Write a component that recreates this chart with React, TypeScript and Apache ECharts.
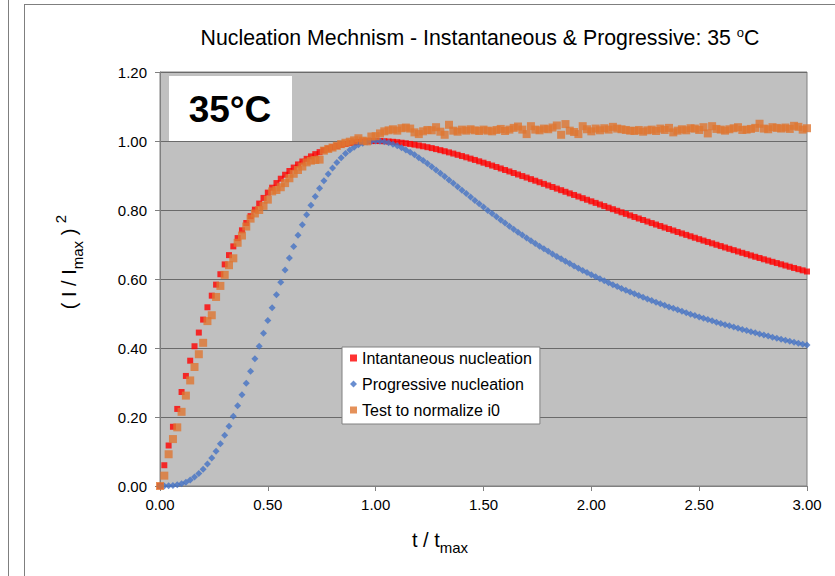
import React, { useEffect, useRef } from "react";
import * as echarts from "echarts";

const tValues = [
  0, 0.02, 0.04, 0.06, 0.08, 0.1, 0.12, 0.14, 0.16, 0.18, 0.2,
  0.22, 0.24, 0.26, 0.28, 0.3, 0.32, 0.34, 0.36, 0.38, 0.4,
  0.42, 0.44, 0.46, 0.48, 0.5, 0.52, 0.54, 0.56, 0.58, 0.6,
  0.62, 0.64, 0.66, 0.68, 0.7, 0.72, 0.74, 0.76, 0.78, 0.8,
  0.82, 0.84, 0.86, 0.88, 0.9, 0.92, 0.94, 0.96, 0.98, 1.0,
  1.02, 1.04, 1.06, 1.08, 1.1, 1.12, 1.14, 1.16, 1.18, 1.2,
  1.22, 1.24, 1.26, 1.28, 1.3, 1.32, 1.34, 1.36, 1.38, 1.4,
  1.42, 1.44, 1.46, 1.48, 1.5, 1.52, 1.54, 1.56, 1.58, 1.6,
  1.62, 1.64, 1.66, 1.68, 1.7, 1.72, 1.74, 1.76, 1.78, 1.8,
  1.82, 1.84, 1.86, 1.88, 1.9, 1.92, 1.94, 1.96, 1.98, 2.0,
  2.02, 2.04, 2.06, 2.08, 2.1, 2.12, 2.14, 2.16, 2.18, 2.2,
  2.22, 2.24, 2.26, 2.28, 2.3, 2.32, 2.34, 2.36, 2.38, 2.4,
  2.42, 2.44, 2.46, 2.48, 2.5, 2.52, 2.54, 2.56, 2.58, 2.6,
  2.62, 2.64, 2.66, 2.68, 2.7, 2.72, 2.74, 2.76, 2.78, 2.8,
  2.82, 2.84, 2.86, 2.88, 2.9, 2.92, 2.94, 2.96, 2.98, 3.0,
];

const instantaneous = [
  0, 0.0602, 0.1174, 0.1717, 0.2234, 0.2724, 0.319, 0.3632, 0.4051, 0.4447, 0.4823,
  0.518, 0.5517, 0.5836, 0.6138, 0.6423, 0.6692, 0.6946, 0.7186, 0.7411, 0.7623,
  0.7822, 0.801, 0.8186, 0.835, 0.8504, 0.8647, 0.8781, 0.8907, 0.9022, 0.913,
  0.923, 0.9321, 0.9406, 0.9483, 0.9554, 0.9619, 0.9677, 0.973, 0.9777, 0.9819,
  0.9856, 0.9888, 0.9916, 0.9939, 0.9958, 0.9974, 0.9985, 0.9993, 0.9997, 0.9999,
  0.9998, 0.9993, 0.9986, 0.9977, 0.9965, 0.995, 0.9934, 0.9915, 0.9894, 0.9871,
  0.9847, 0.9821, 0.9794, 0.9765, 0.9734, 0.9703, 0.967, 0.9636, 0.96, 0.9564,
  0.9527, 0.9489, 0.9451, 0.9411, 0.9371, 0.933, 0.9288, 0.9246, 0.9204, 0.916,
  0.9117, 0.9073, 0.9029, 0.8984, 0.894, 0.8894, 0.8849, 0.8804, 0.8758, 0.8712,
  0.8666, 0.862, 0.8574, 0.8528, 0.8482, 0.8436, 0.839, 0.8343, 0.8297, 0.8251,
  0.8206, 0.816, 0.8114, 0.8068, 0.8023, 0.7978, 0.7933, 0.7888, 0.7843, 0.7798,
  0.7754, 0.771, 0.7665, 0.7621, 0.7578, 0.7535, 0.7491, 0.7449, 0.7406, 0.7363,
  0.7321, 0.7279, 0.7238, 0.7196, 0.7155, 0.7114, 0.7074, 0.7034, 0.6993, 0.6954,
  0.6914, 0.6875, 0.6836, 0.6797, 0.6759, 0.6721, 0.6683, 0.6645, 0.6608, 0.6571,
  0.6534, 0.6498, 0.6462, 0.6426, 0.639, 0.6355, 0.632, 0.6285, 0.6251, 0.6217,
];

const progressive = [
  0, 0.0001, 0.0004, 0.0014, 0.0034, 0.0065, 0.0112, 0.0175, 0.0258, 0.0362, 0.0488,
  0.0637, 0.081, 0.1006, 0.1226, 0.1469, 0.1733, 0.2019, 0.2324, 0.2645, 0.2981,
  0.3329, 0.3688, 0.4054, 0.4424, 0.4797, 0.517, 0.554, 0.5904, 0.6261, 0.6608,
  0.6943, 0.7265, 0.7572, 0.7863, 0.8137, 0.8392, 0.8628, 0.8845, 0.9043, 0.922,
  0.9379, 0.9517, 0.9637, 0.9738, 0.9822, 0.9888, 0.9938, 0.9973, 0.9993, 1.0,
  0.9994, 0.9976, 0.9947, 0.9908, 0.9861, 0.9805, 0.9742, 0.9673, 0.9598, 0.9518,
  0.9434, 0.9346, 0.9255, 0.9162, 0.9066, 0.8969, 0.8871, 0.8773, 0.8673, 0.8574,
  0.8475, 0.8376, 0.8278, 0.8181, 0.8084, 0.7989, 0.7895, 0.7802, 0.771, 0.762,
  0.7531, 0.7444, 0.7358, 0.7274, 0.7191, 0.711, 0.7031, 0.6952, 0.6876, 0.6801,
  0.6727, 0.6655, 0.6584, 0.6515, 0.6447, 0.638, 0.6315, 0.625, 0.6188, 0.6126,
  0.6066, 0.6007, 0.5949, 0.5891, 0.5835, 0.578, 0.5726, 0.5673, 0.5621, 0.557,
  0.552, 0.5471, 0.5422, 0.5375, 0.5328, 0.5282, 0.5237, 0.5192, 0.5149, 0.5106,
  0.5064, 0.5022, 0.4981, 0.4941, 0.4902, 0.4863, 0.4824, 0.4787, 0.475, 0.4713,
  0.4677, 0.4642, 0.4607, 0.4572, 0.4539, 0.4505, 0.4472, 0.444, 0.4408, 0.4376,
  0.4345, 0.4315, 0.4285, 0.4255, 0.4226, 0.4197, 0.4168, 0.414, 0.4112, 0.4085,
];

const testNormalize = [
  0, 0.03, 0.092, 0.136, 0.17, 0.215, 0.262, 0.306, 0.345, 0.382, 0.415,
  0.478, 0.495, 0.548, 0.58, 0.612, 0.64, 0.66, 0.705, 0.726, 0.752,
  0.775, 0.79, 0.8, 0.812, 0.83, 0.854, 0.858, 0.866, 0.878, 0.892,
  0.905, 0.916, 0.926, 0.938, 0.943, 0.945, 0.946, 0.972, 0.977, 0.981,
  0.986, 0.991, 0.995, 0.998, 1.002, 1.008, 1.001, 0.999, 1.013, 1.014,
  1.022, 1.028, 1.031, 1.034, 1.03, 1.037, 1.039, 1.036, 1.025, 1.02,
  1.028, 1.032, 1.031, 1.04, 1.027, 1.018, 1.047, 1.03, 1.027, 1.033,
  1.03, 1.034, 1.031, 1.029, 1.033, 1.03, 1.028, 1.032, 1.035, 1.029,
  1.033, 1.038, 1.042, 1.033, 1.02, 1.043, 1.033, 1.031, 1.036, 1.034,
  1.039, 1.045, 1.018, 1.049, 1.03, 1.026, 1.02, 1.043, 1.034, 1.028,
  1.036, 1.031, 1.037, 1.033, 1.041, 1.036, 1.034, 1.032, 1.03, 1.029,
  1.032, 1.027, 1.031, 1.033, 1.029, 1.036, 1.032, 1.038, 1.025, 1.03,
  1.034, 1.031, 1.037, 1.036, 1.032, 1.04, 1.022, 1.043, 1.035, 1.033,
  1.03, 1.034, 1.037, 1.04, 1.032, 1.033, 1.035, 1.038, 1.05, 1.036,
  1.034, 1.04, 1.038, 1.036, 1.039, 1.035, 1.044, 1.041, 1.033, 1.037,
];

const seriesNames = [
  "Intantaneous nucleation",
  "Progressive nucleation",
  "Test to normalize i0",
];

const FONT = "'Liberation Sans', Arial, sans-serif";

export default function App() {
  const ref = useRef<HTMLDivElement>(null);

  useEffect(() => {
    if (!ref.current) return;
    const chart = echarts.init(ref.current, undefined, { renderer: "svg" });
    const pairs = (arr: number[]) => tValues.map((t, i) => [t, arr[i]]);

    chart.setOption({
      animation: false,
      backgroundColor: "#ffffff",
      textStyle: { fontFamily: FONT },
      grid: {
        left: 160,
        right: 28,
        top: 72,
        bottom: 90,
        show: true,
        backgroundColor: "#C0C0C0",
        borderColor: "#808080",
        borderWidth: 1,
      },
      xAxis: {
        type: "value",
        min: 0,
        max: 3,
        interval: 0.5,
        axisLine: { show: true, lineStyle: { color: "#808080", width: 1 } },
        axisTick: { show: true, inside: false, length: 5, lineStyle: { color: "#808080" } },
        splitLine: { show: false },
        axisLabel: {
          margin: 11,
          color: "#000",
          fontSize: 15,
          fontFamily: FONT,
          formatter: (v: number) => v.toFixed(2),
        },
      },
      yAxis: {
        type: "value",
        min: 0,
        max: 1.2,
        interval: 0.2,
        axisLine: { show: true, lineStyle: { color: "#808080", width: 1 } },
        axisTick: { show: true, inside: false, length: 5, lineStyle: { color: "#808080" } },
        splitLine: { show: true, lineStyle: { color: "#6a6a6a", width: 1 } },
        axisLabel: {
          margin: 13,
          color: "#000",
          fontSize: 15,
          fontFamily: FONT,
          formatter: (v: number) => v.toFixed(2),
        },
      },
      legend: {
        orient: "vertical",
        left: 342,
        top: 347,
        padding: [2, 8, 5, 8],
        itemGap: 8,
        itemWidth: 7,
        itemHeight: 7,
        backgroundColor: "#ffffff",
        borderColor: "#808080",
        borderWidth: 1,
        borderRadius: 0,
        textStyle: { fontSize: 16, lineHeight: 18, color: "#000", fontFamily: FONT },
        data: [
          { name: seriesNames[0], icon: "rect" },
          { name: seriesNames[1], icon: "diamond" },
          { name: seriesNames[2], icon: "rect" },
        ],
      },
      series: [
        {
          name: seriesNames[0],
          type: "scatter",
          symbol: "rect",
          symbolSize: 6,
          itemStyle: { color: "#FF0000" },
          data: pairs(instantaneous),
        },
        {
          name: seriesNames[1],
          type: "scatter",
          symbol: "diamond",
          symbolSize: 7,
          itemStyle: { color: "#4472C4" },
          data: pairs(progressive),
        },
        {
          name: seriesNames[2],
          type: "scatter",
          symbol: "rect",
          symbolSize: 8,
          itemStyle: { color: "#DE7631" },
          data: pairs(testNormalize),
        },
      ],
      graphic: [
        { type: "line", silent: true, shape: { x1: 8.5, y1: 0, x2: 8.5, y2: 576 }, style: { stroke: "#7f7f7f", lineWidth: 1 } },
        { type: "line", silent: true, shape: { x1: 24.5, y1: 4, x2: 24.5, y2: 576 }, style: { stroke: "#7f7f7f", lineWidth: 1 } },
        { type: "line", silent: true, shape: { x1: 24.5, y1: 4.5, x2: 835, y2: 4.5 }, style: { stroke: "#7f7f7f", lineWidth: 1 } },
        {
          type: "text",
          x: 480,
          y: 38,
          style: {
            text: "Nucleation Mechnism - Instantaneous & Progressive: 35 {sup|o}C",
            fontSize: 21.3,
            fontFamily: FONT,
            fill: "#000",
            align: "center",
            verticalAlign: "middle",
            lineHeight: 24,
            rich: {
              sup: { fontSize: 13, verticalAlign: "top", lineHeight: 22, fontFamily: FONT },
            },
          },
        },
        {
          type: "rect",
          shape: { x: 169, y: 76, width: 123, height: 65 },
          style: { fill: "#ffffff" },
          z: 10,
        },
        {
          type: "text",
          x: 230,
          y: 109,
          z: 11,
          style: {
            text: "35°C",
            fontSize: 37,
            fontWeight: "bold",
            fontFamily: FONT,
            fill: "#000",
            align: "center",
            verticalAlign: "middle",
          },
        },
        {
          type: "text",
          x: 69,
          y: 262,
          rotation: Math.PI / 2,
          style: {
            text: "( I / I{sub|max} ) {sup|2}",
            fontSize: 20,
            fontFamily: FONT,
            fill: "#000",
            align: "center",
            verticalAlign: "middle",
            lineHeight: 32,
            rich: {
              sub: { fontSize: 15, verticalAlign: "bottom", lineHeight: 32, fontFamily: FONT },
              sup: { fontSize: 15, verticalAlign: "top", lineHeight: 32, fontFamily: FONT },
            },
          },
        },
        {
          type: "text",
          x: 440,
          y: 540,
          style: {
            text: "t / t{sub|max}",
            fontSize: 20,
            fontFamily: FONT,
            fill: "#000",
            align: "center",
            verticalAlign: "middle",
            lineHeight: 30,
            rich: {
              sub: { fontSize: 15, verticalAlign: "bottom", lineHeight: 30, fontFamily: FONT },
            },
          },
        },
      ],
    });
    return () => chart.dispose();
  }, []);

  return (
    <div
      ref={ref}
      style={{ position: "fixed", left: 0, top: 0, width: 835, height: 576 }}
    />
  );
}
